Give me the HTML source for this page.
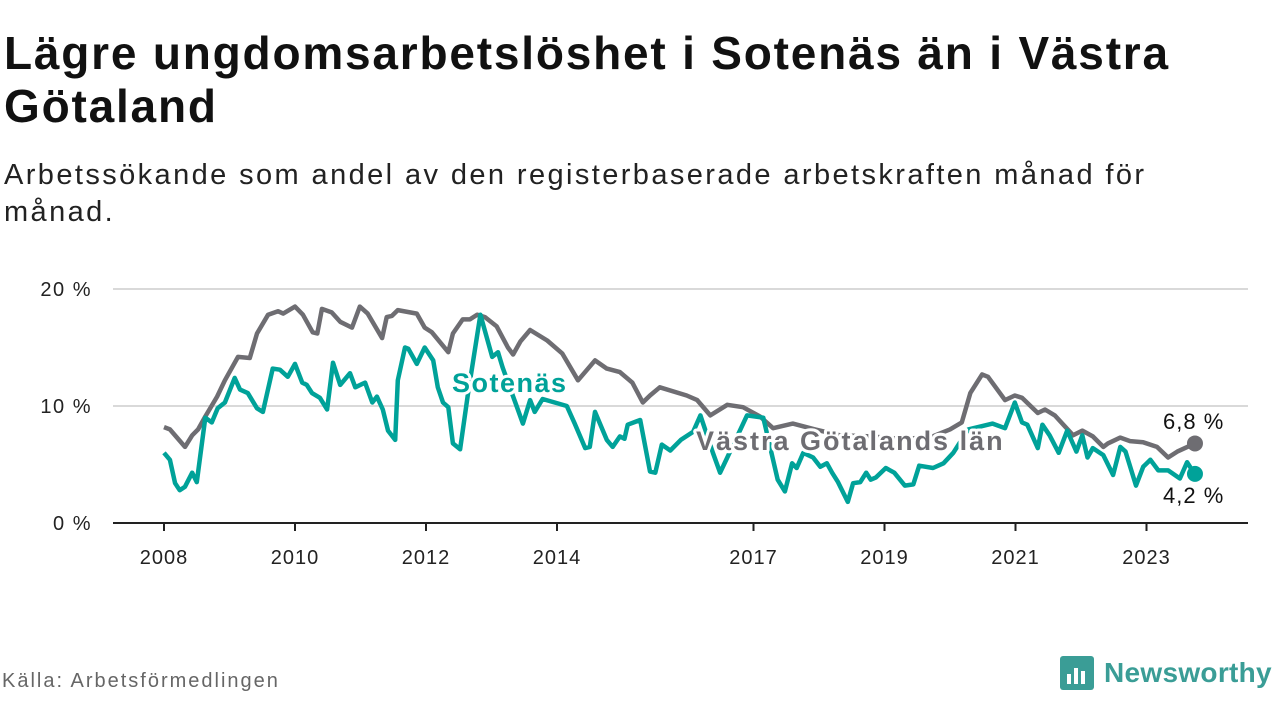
<!DOCTYPE html>
<html><head><meta charset="utf-8">
<style>
body{margin:0;width:1280px;height:720px;background:#fff;font-family:"Liberation Sans",sans-serif;overflow:hidden;position:relative;color:#111}
#title{position:absolute;left:4px;top:27px;font-size:46px;font-weight:bold;line-height:53px;margin:0;color:#111;letter-spacing:1.8px}
#sub{position:absolute;left:4px;top:157px;font-size:29px;line-height:37px;color:#222;letter-spacing:2.4px}
#src{position:absolute;left:2px;top:670px;font-size:20px;color:#666;letter-spacing:2px}
#logo{position:absolute;left:1060px;top:656px;display:flex;align-items:center}
#logo span{font-size:28px;font-weight:bold;color:#3a9d96;margin-left:10px;letter-spacing:0.3px}
svg{position:absolute;left:0;top:0}
</style></head><body>
<h1 id="title">Lägre ungdomsarbetslöshet i Sotenäs än i Västra<br>Götaland</h1>
<div id="sub">Arbetssökande som andel av den registerbaserade arbetskraften månad för<br>månad.</div>
<svg id="chart" width="1280" height="720"></svg>
<div id="src">Källa: Arbetsförmedlingen</div>
<div id="logo">
<svg width="34" height="34" style="position:static"><rect x="0" y="0" width="34" height="34" rx="3" fill="#3a9d96"/><rect x="7" y="18" width="4" height="10" fill="#fff"/><rect x="14" y="12" width="4" height="16" fill="#fff"/><rect x="21" y="15" width="4" height="13" fill="#fff"/></svg>
<span>Newsworthy</span></div>
<script>
const grayT=[2008.0,2008.09,2008.32,2008.43,2008.52,2008.63,2008.81,2008.93,2009.13,2009.31,2009.42,2009.59,2009.74,2009.82,2010.0,2010.12,2010.27,2010.34,2010.41,2010.56,2010.69,2010.87,2010.99,2011.11,2011.33,2011.40,2011.48,2011.57,2011.86,2011.98,2012.09,2012.34,2012.41,2012.56,2012.67,2012.78,2012.90,2013.08,2013.25,2013.33,2013.44,2013.59,2013.85,2014.08,2014.32,2014.46,2014.58,2014.76,2014.96,2015.15,2015.31,2015.42,2015.57,2015.98,2016.14,2016.34,2016.60,2016.84,2017.10,2017.30,2017.60,2017.94,2018.32,2018.78,2019.24,2019.69,2020.0,2020.18,2020.31,2020.49,2020.58,2020.84,2020.99,2021.10,2021.34,2021.45,2021.60,2021.88,2022.02,2022.18,2022.34,2022.41,2022.60,2022.75,2022.95,2023.16,2023.33,2023.47,2023.74];
const grayV=[8.2,8.0,6.5,7.5,8.0,9.1,10.8,12.2,14.2,14.1,16.2,17.8,18.1,17.9,18.5,17.8,16.3,16.2,18.3,18.0,17.2,16.7,18.5,17.9,15.8,17.6,17.7,18.2,17.9,16.7,16.3,14.6,16.2,17.4,17.4,17.8,17.6,16.8,15.0,14.4,15.5,16.5,15.6,14.5,12.2,13.1,13.9,13.2,12.9,12.0,10.3,10.9,11.6,10.9,10.5,9.2,10.1,9.9,9.1,8.1,8.5,8.0,7.5,7.4,7.2,7.3,8.0,8.6,11.1,12.7,12.5,10.5,10.9,10.7,9.4,9.7,9.2,7.5,7.9,7.4,6.5,6.8,7.3,7.0,6.9,6.5,5.6,6.1,6.8];
const tealT=[2008.0,2008.09,2008.17,2008.24,2008.32,2008.43,2008.50,2008.63,2008.73,2008.82,2008.93,2009.08,2009.16,2009.28,2009.42,2009.51,2009.66,2009.77,2009.89,2010.0,2010.11,2010.18,2010.26,2010.38,2010.49,2010.58,2010.69,2010.84,2010.92,2011.07,2011.18,2011.25,2011.34,2011.42,2011.53,2011.57,2011.68,2011.73,2011.86,2011.98,2012.11,2012.18,2012.26,2012.34,2012.41,2012.52,2012.64,2012.83,2013.01,2013.10,2013.17,2013.39,2013.48,2013.59,2013.66,2013.78,2014.15,2014.27,2014.43,2014.50,2014.58,2014.76,2014.85,2014.96,2015.03,2015.08,2015.27,2015.42,2015.50,2015.60,2015.73,2015.89,2016.08,2016.19,2016.38,2016.49,2016.60,2016.90,2017.15,2017.37,2017.48,2017.59,2017.66,2017.76,2017.91,2018.02,2018.12,2018.20,2018.29,2018.44,2018.52,2018.63,2018.72,2018.79,2018.87,2019.02,2019.15,2019.31,2019.44,2019.53,2019.74,2019.90,2020.05,2020.28,2020.65,2020.84,2020.99,2021.10,2021.18,2021.34,2021.41,2021.52,2021.66,2021.79,2021.93,2022.02,2022.10,2022.18,2022.34,2022.49,2022.60,2022.68,2022.84,2022.95,2023.06,2023.18,2023.33,2023.51,2023.62,2023.71,2023.74];
const tealV=[6.0,5.4,3.4,2.8,3.1,4.3,3.5,9.0,8.6,9.8,10.3,12.4,11.4,11.1,9.8,9.5,13.2,13.1,12.5,13.6,12.0,11.8,11.1,10.7,9.7,13.7,11.8,12.8,11.6,12.0,10.3,10.8,9.7,7.9,7.1,12.2,15.0,14.9,13.6,15.0,13.9,11.6,10.3,9.9,6.8,6.3,11.0,17.8,14.2,14.6,13.3,9.9,8.5,10.5,9.5,10.6,10.0,8.5,6.4,6.5,9.5,7.1,6.5,7.4,7.2,8.4,8.8,4.4,4.3,6.7,6.2,7.1,7.8,9.2,6.0,4.3,5.6,9.2,9.0,3.7,2.7,5.1,4.7,6.0,5.6,4.8,5.1,4.3,3.5,1.8,3.4,3.5,4.3,3.7,3.9,4.7,4.3,3.2,3.3,4.9,4.7,5.1,6.0,8.0,8.5,8.1,10.3,8.6,8.4,6.4,8.4,7.5,6.0,7.9,6.1,7.5,5.6,6.4,5.8,4.1,6.5,6.1,3.2,4.8,5.4,4.5,4.5,3.8,5.2,4.4,4.2];
const yTicks=[0,10,20];
const yTickLabels=["0 %","10 %","20 %"];
const xTicks=[2008,2010,2012,2014,2017,2019,2021,2023];
const NS="http://www.w3.org/2000/svg";
const svg=document.getElementById('chart');
const X=t=>164+(t-2008)*65.5;
const Y=v=>523-v*11.7;
function el(tag,a,parent){const e=document.createElementNS(NS,tag);for(const k in a)e.setAttribute(k,a[k]);(parent||svg).appendChild(e);return e;}
yTicks.forEach((v,i)=>{
  if(v>0){const g=el('line',{x1:113,x2:1248,y1:Y(v),y2:Y(v),stroke:'#d9d9d9','stroke-width':2});
  
  }
  const t=el('text',{x:92,y:Y(v)+7,'text-anchor':'end','font-size':20,fill:'#222','letter-spacing':1.5,'font-family':'Liberation Sans, sans-serif'});
  t.textContent=yTickLabels[i];
  
  
});
const ax=el('line',{x1:113,x2:1248,y1:523,y2:523,stroke:'#222','stroke-width':2});


xTicks.forEach(yr=>{
  const tk=el('line',{x1:X(yr),x2:X(yr),y1:523,y2:531,stroke:'#222','stroke-width':2});
  
  
  const t=el('text',{x:X(yr),y:564,'text-anchor':'middle','font-size':20,fill:'#222','letter-spacing':1,'font-family':'Liberation Sans, sans-serif'});
  t.textContent=yr;
  
  
});
function path(T,V){return T.map((t,i)=>(i?'L':'M')+X(t).toFixed(1)+','+Y(V[i]).toFixed(1)).join('');}
const gl=el('path',{d:path(grayT,grayV),fill:'none',stroke:'#6e6d72','stroke-width':4.5,'stroke-linejoin':'round'});


const tl=el('path',{d:path(tealT,tealV),fill:'none',stroke:'#00a299','stroke-width':4.5,'stroke-linejoin':'round'});


const gd=el('circle',{cx:X(grayT[grayT.length-1]),cy:Y(grayV[grayV.length-1]),r:8,fill:'#6e6d72'});


const td=el('circle',{cx:X(tealT[tealT.length-1]),cy:Y(tealV[tealV.length-1]),r:8,fill:'#00a299'});


function label(txt,x,y,col,size,weight,ls,name){
  const t=el('text',{x:x,y:y,'font-size':size,'font-weight':weight,fill:col,stroke:'#fff','stroke-width':6,'paint-order':'stroke','stroke-linejoin':'round','letter-spacing':ls,'font-family':'Liberation Sans, sans-serif'});
  t.textContent=txt;
  
  
}
label('Sotenäs',452,392,'#00a299',27,'bold',1.5,'series-label-sotenas');
label('Västra Götalands län',696,450,'#6e6d72',27,'bold',2,'series-label-vastra-gotaland');
label('6,8 %',1163,429,'#111',22,'normal',1,'end-value-vastra-gotaland');
label('4,2 %',1163,503,'#111',22,'normal',1,'end-value-sotenas');
</script>
</body></html>
